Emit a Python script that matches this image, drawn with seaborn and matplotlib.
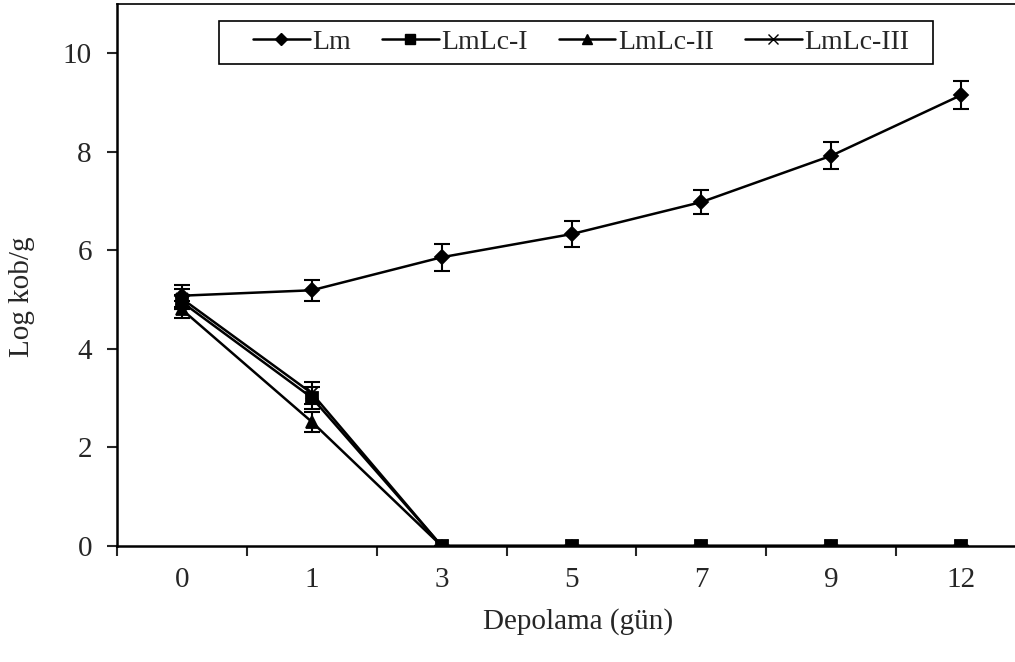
import numpy as np
import pandas as pd
import matplotlib
matplotlib.use("Agg")
import matplotlib.pyplot as plt
import seaborn as sns
from matplotlib.lines import Line2D
from matplotlib.patches import Rectangle

days = ["0", "1", "3", "5", "7", "9", "12"]
series_names = ["Lm", "LmLc-I", "LmLc-II", "LmLc-III"]
lm = [5.08, 5.19, 5.86, 6.33, 6.98, 7.92, 9.15]
lm_err = [0.22, 0.21, 0.27, 0.27, 0.25, 0.27, 0.29]
lmlc1 = [4.95, 3.01, 0, 0, 0, 0, 0]
lmlc1_err = [0.15, 0.22, 0, 0, 0, 0, 0]
lmlc2 = [4.80, 2.52, 0, 0, 0, 0, 0]
lmlc2_err = [0.18, 0.20, 0, 0, 0, 0, 0]
lmlc3 = [5.02, 3.10, 0, 0, 0, 0, 0]
lmlc3_err = [0.20, 0.22, 0, 0, 0, 0, 0]

values = {"Lm": lm, "LmLc-I": lmlc1, "LmLc-II": lmlc2, "LmLc-III": lmlc3}
errors = {"Lm": lm_err, "LmLc-I": lmlc1_err, "LmLc-II": lmlc2_err, "LmLc-III": lmlc3_err}
markers = {"Lm": "D", "LmLc-I": "s", "LmLc-II": "^", "LmLc-III": "x"}
msizes = {"Lm": 7.5, "LmLc-I": 8.5, "LmLc-II": 8.5, "LmLc-III": 8}

rows = []
for s in series_names:
    for i, d in enumerate(days):
        rows.append({"pos": i, "day": d, "series": s, "val": values[s][i], "err": errors[s][i]})
df = pd.DataFrame(rows)

sns.set_style("white")
plt.rcParams["font.family"] = ["Liberation Serif", "DejaVu Serif"]

fig = plt.figure(figsize=(10.15, 6.62), dpi=100)
ax = fig.add_axes([117/1015, 1-546/662, (1026-117)/1015, (546-4)/662])

draw_order = ["LmLc-III", "LmLc-II", "Lm", "LmLc-I"]
for s in draw_order:
    sub = df[df["series"] == s]
    ax.errorbar(sub["pos"], sub["val"], yerr=sub["err"], fmt="none", ecolor="black",
                elinewidth=1.5, capsize=6, capthick=1.5, zorder=2)
    sns.lineplot(data=sub, x="pos", y="val", ax=ax, color="black", linewidth=1.8,
                 marker=markers[s], markersize=msizes[s], markeredgecolor="black",
                 markerfacecolor="black", markeredgewidth=1.3, legend=False, zorder=3)

ax.set_xlim(-0.5, 6.5)
ax.set_ylim(0, 11)
ax.set_yticks([0, 2, 4, 6, 8, 10])
ax.set_xticks(range(len(days)))
ax.set_xticklabels(days)
ax.set_xticks(np.arange(-0.5, 6.6, 1.0), minor=True)
ax.tick_params(axis="x", which="major", length=0, labelsize=21, pad=15)
ax.tick_params(axis="x", which="minor", length=7, width=1.5, direction="out", bottom=True)
ax.tick_params(axis="y", which="major", length=7, width=1.5, direction="out", left=True,
               labelsize=21, pad=11)
for side in ["left", "bottom"]:
    ax.spines[side].set_linewidth(1.8)
    ax.spines[side].set_color("black")
ax.spines["top"].set_linewidth(1.2)
ax.spines["top"].set_color("black")
ax.spines["right"].set_visible(False)

ax.set_xlabel("Depolama (gün)", fontsize=21, va="center")
ax.xaxis.set_label_coords((578-117)/909, (546-622)/542)
ax.set_ylabel("Log kob/g", fontsize=21, va="center")
ax.yaxis.set_label_coords((22-117)/909, (546-297)/542)

handles = [Line2D([], [], color="black", linewidth=1.8, marker=markers[s],
                  markersize=msizes[s] - 1, markerfacecolor="black", markeredgecolor="black")
           for s in series_names]
leg = ax.legend(handles, series_names, loc="center", bbox_to_anchor=(581/1015, 1-42.5/662),
                bbox_transform=fig.transFigure, ncol=4, fontsize=20, frameon=False,
                handlelength=2.05, handletextpad=0.1, columnspacing=1.1, borderpad=0.0)
leg.set_zorder(6)
frame = Rectangle((219/1015, 1-64/662), (933-219)/1015, 43/662, transform=fig.transFigure,
                  fill=True, facecolor="white", edgecolor="black", linewidth=1.2,
                  zorder=5, clip_on=False)
ax.add_patch(frame)

fig.savefig("out.png", dpi=100)
